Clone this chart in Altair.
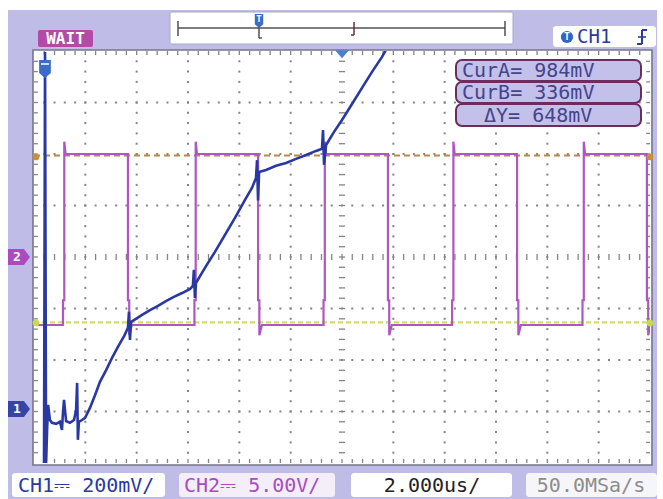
import altair as alt
import pandas as pd
import numpy as np

W, H = 663, 499
PL, PT, PR, PB = 34, 51, 13, 36
PW, PH = W - PL - PR, H - PT - PB  # 616 x 412 screen (12 x 8 divisions)

# ---------------- data ----------------
# CH1 (blue): time in microseconds, voltage in mV (200 mV/div, ground 2.95 div below centre)
ch1_t_us = [-11.61, -11.57, -11.53, -11.49, -11.45, -11.38, -11.30, -11.14, -10.99, -10.91,
            -10.87, -10.83, -10.75, -10.60, -10.44, -10.36, -10.32, -10.29, -10.25, -10.13,
            -10.01, -9.82, -9.62, -9.43, -9.19, -8.96, -8.73, -8.49, -8.34, -8.30,
            -8.26, -8.22, -8.03, -7.79, -7.48, -7.17, -6.86, -6.55, -6.23, -5.92,
            -5.81, -5.77, -5.73, -5.69, -5.34, -4.95, -4.56, -4.17, -3.78, -3.51,
            -3.35, -3.31, -3.27, -3.23, -2.96, -2.57, -2.18, -1.79, -1.40, -1.01,
            -0.78, -0.74, -0.70, -0.62, -0.31, 0.00, 0.39, 0.78, 1.17, 1.56, 1.71]
ch1_mV = [-217, 1386, -217, -82, 16, -43, -54, -58, -50, -82,
          -12, 35, -47, -54, -43, -4, 101, -120, -50, -43,
          -35, 4, 54, 105, 151, 198, 241, 283, 315, 377,
          268, 338, 350, 365, 384, 400, 419, 435, 450, 466,
          478, 540, 431, 489, 548, 610, 676, 742, 812, 858,
          897, 966, 810, 920, 928, 944, 955, 971, 986, 1002,
          1010, 1083, 948, 1025, 1076, 1122, 1184, 1247, 1309, 1367, 1394]
CH1_MV_PER_DIV = 200
CH1_GROUND_DIV = -2.95

# CH2 (purple): square wave, 5 V/div, ground at centre
ch2_edge_us = [-10.87, -8.34, -5.75, -3.27, -0.72, 1.79, 4.29, 6.82, 9.37, 11.88]
ch2_edge_kind = ["rise", "fall", "rise", "fall", "rise", "fall", "rise", "fall", "rise", "fall"]
ch2_high_V = 10.0
ch2_low_V = -6.6
ch2_step_V = -4.2
ch2_overshoot_V = 11.2
ch2_undershoot_V = -7.6
CH2_V_PER_DIV = 5.0

# cursors (CH1)
cur_a_mV = 984
cur_b_mV = 336
delta_mV = 648

# ---------------- tables ----------------
ch1 = pd.DataFrame({"t": ch1_t_us,
                    "d": [v / CH1_MV_PER_DIV + CH1_GROUND_DIV for v in ch1_mV]})
ch1["i"] = range(len(ch1))

pts = [(-12.0, ch2_low_V)]
for te, kind in zip(ch2_edge_us, ch2_edge_kind):
    if kind == "rise":
        pts += [(te, ch2_low_V), (te, ch2_step_V), (te + 0.05, ch2_step_V),
                (te + 0.05, ch2_overshoot_V), (te + 0.1, ch2_high_V)]
    else:
        pts += [(te, ch2_high_V), (te, ch2_step_V), (te + 0.05, ch2_step_V),
                (te + 0.05, ch2_undershoot_V), (te + 0.15, ch2_low_V)]
if pts[-1][0] < 12:
    pts.append((12.0, ch2_low_V))
ch2 = pd.DataFrame({"t": [p[0] for p in pts], "d": [p[1] / CH2_V_PER_DIV for p in pts]})
ch2["i"] = range(len(ch2))

cur_a_div = cur_a_mV / CH1_MV_PER_DIV + CH1_GROUND_DIV
cur_b_div = cur_b_mV / CH1_MV_PER_DIV + CH1_GROUND_DIV

minor_t = np.round(np.arange(-12, 12.001, 0.4), 3)
minor_d = np.round(np.arange(-4, 4.001, 0.2), 3)
dots = []
for t in [-10, -8, -6, -4, -2, 2, 4, 6, 8, 10]:
    for d in minor_d[1:-1]:
        dots.append((t, d))
for d in [-3, -2, -1, 1, 2, 3]:
    for t in minor_t[1:-1]:
        dots.append((t, d))
dots_df = pd.DataFrame(dots, columns=["t", "d"])

ticks = []
for t in minor_t[1:-1]:
    ticks.append((t, t, -0.06, 0.06))        # centre horizontal line
    ticks.append((t, t, 4.0, 3.92))          # top border
    ticks.append((t, t, -4.0, -3.92))        # bottom border
for d in minor_d[1:-1]:
    ticks.append((-0.12, 0.12, d, d))        # centre vertical line
    ticks.append((-12.0, -11.85, d, d))      # left border
    ticks.append((12.0, 11.85, d, d))        # right border
ticks_df = pd.DataFrame(ticks, columns=["t", "t2", "d", "d2"])

XS = alt.Scale(domain=[-12, 12], nice=False, zero=False)
YS = alt.Scale(domain=[-4, 4], nice=False, zero=False)
one = pd.DataFrame({"k": [0]})

LAV = "#bfbde7"
BLUE = "#2a39a2"
PURPLE = "#b056c2"
MONO = "DejaVu Sans Mono"


def box(X0, Y0, X1, Y1, fill, stroke=None, sw=1.0, r=0):
    kw = dict(fill=fill, cornerRadius=r)
    if stroke:
        kw.update(stroke=stroke, strokeWidth=sw)
    else:
        kw.update(strokeWidth=0)
    return alt.Chart(one).mark_rect(**kw).encode(
        x=alt.value(X0 - PL), x2=alt.value(X1 - PL),
        y=alt.value(Y0 - PT), y2=alt.value(Y1 - PT))


def seg(X0, Y0, X1, Y1, color, sw=1.5):
    return alt.Chart(one).mark_rule(color=color, strokeWidth=sw).encode(
        x=alt.value(X0 - PL), x2=alt.value(X1 - PL),
        y=alt.value(Y0 - PT), y2=alt.value(Y1 - PT))


def label(X, Y, s, color, size, align="left", weight="normal", font=MONO):
    return alt.Chart(one).mark_text(text=s, color=color, fontSize=size, align=align,
                                    baseline="middle", fontWeight=weight, font=font).encode(
        x=alt.value(X - PL), y=alt.value(Y - PT))


def sym(X, Y, shape, size, color):
    return alt.Chart(one).mark_point(shape=shape, size=size, filled=True, fill=color,
                                     opacity=1, strokeWidth=0).encode(
        x=alt.value(X - PL), y=alt.value(Y - PT))


layers = []
# frame
layers.append(box(8, 10, 657, 499, LAV))
layers.append(box(0, 0, 663, 10, "#ffffff"))
layers.append(box(PL - 1, PT - 1, PL + PW + 2, PT + PH + 2, "#ffffff", "#76768a", 1.6))

# graticule
layers.append(alt.Chart(dots_df).mark_square(size=4, color="#858585", opacity=1).encode(
    x=alt.X("t:Q", scale=XS, axis=None), y=alt.Y("d:Q", scale=YS, axis=None)))
layers.append(alt.Chart(ticks_df).mark_rule(color="#858585", strokeWidth=1.3).encode(
    x=alt.X("t:Q", scale=XS, axis=None), x2="t2:Q",
    y=alt.Y("d:Q", scale=YS, axis=None), y2="d2:Q"))

# cursor lines
layers.append(alt.Chart(pd.DataFrame({"d": [cur_b_div]})).mark_rule(
    color="#d2dc6a", strokeWidth=2.4, strokeDash=[5, 3]).encode(
    y=alt.Y("d:Q", scale=YS, axis=None), x=alt.value(0), x2=alt.value(PW)))
layers.append(alt.Chart(pd.DataFrame({"d": [cur_a_div]})).mark_rule(
    color="#b88a48", strokeWidth=2, strokeDash=[6, 4]).encode(
    y=alt.Y("d:Q", scale=YS, axis=None), x=alt.value(0), x2=alt.value(PW)))

# traces
layers.append(alt.Chart(ch2).mark_line(color=PURPLE, strokeWidth=2.2, clip=True).encode(
    x=alt.X("t:Q", scale=XS, axis=None), y=alt.Y("d:Q", scale=YS, axis=None), order="i:Q"))
layers.append(alt.Chart(ch1).mark_line(color=BLUE, strokeWidth=2.6, clip=True).encode(
    x=alt.X("t:Q", scale=XS, axis=None), y=alt.Y("d:Q", scale=YS, axis=None), order="i:Q"))

# cursor end markers
for Y, c in [(157, "#c8903c"), (323, "#c8d850")]:
    layers.append(sym(36, Y, "circle", 45, c))
    layers.append(sym(650, Y, "circle", 45, c))

# markers on screen
layers.append(sym(342, 54, "M-1,-0.55 L1,-0.55 L0,0.6 Z", 196, "#4a7fd0"))
layers.append(sym(45, 69, "M-0.65,-1 L0.65,-1 L0.65,0.45 L0,1 L-0.65,0.45 Z", 324, "#3a6cc8"))
layers.append(seg(41, 64, 49, 64, "#ffffff", 1.5))

# left channel markers
arrow = "M-1,-0.72 L0.45,-0.72 L1,0 L0.45,0.72 L-1,0.72 Z"
layers.append(sym(19, 257, arrow, 484, "#a84cbf"))
layers.append(label(17, 257, "2", "#ffffff", 13, "center", "bold"))
layers.append(sym(19, 409, arrow, 484, "#3545a5"))
layers.append(label(17, 409, "1", "#ffffff", 13, "center", "bold"))

# top-left WAIT
layers.append(box(38, 30, 93, 47, "#b24aa6", r=2))
layers.append(label(65.5, 39, "WAIT", "#ffffff", 16, "center", "bold"))

# top-centre memory bar
layers.append(box(170, 12, 513, 44, "#ffffff", "#a8a8c8", 1, r=2))
layers.append(seg(178, 28, 505, 28, "#505050", 1.5))
layers.append(seg(178, 21, 178, 36, "#505050", 1.5))
layers.append(seg(505, 21, 505, 36, "#505050", 1.5))
layers.append(seg(259, 27, 259, 38, "#505050", 1.5))
layers.append(seg(259, 38, 262, 38, "#505050", 1.5))
layers.append(seg(354, 22, 354, 35, "#6a3030", 1.5))
layers.append(seg(351, 35, 354, 35, "#6a3030", 1.5))
layers.append(sym(259, 21, "M-0.6,-1 L0.6,-1 L0.6,0.45 L0,1 L-0.6,0.45 Z", 196, "#3a6cc8"))
layers.append(label(259, 19, "T", "#ffffff", 9, "center", "bold"))

# top-right trigger source
layers.append(box(553, 26, 656, 47, "#ffffff", r=3))
layers.append(sym(567, 37, "circle", 150, "#2f64c8"))
layers.append(label(567, 37, "T", "#ffffff", 10, "center", "bold"))
layers.append(label(577, 37, "CH1", "#2a3c9c", 19, "left"))
# rising-edge trigger icon
layers.append(seg(642, 30, 642, 44, "#2a3c9c", 2))
layers.append(seg(642, 30, 647, 30, "#2a3c9c", 2))
layers.append(seg(637, 44, 642, 44, "#2a3c9c", 2))
layers.append(seg(638, 37, 646, 37, "#2a3c9c", 1.6))

# cursor readouts
for (Y0, Y1), s, X in [((60, 81), "CurA= " + f"{cur_a_mV}mV", 462),
                       ((82, 103), "CurB= " + f"{cur_b_mV}mV", 462),
                       ((104, 126), "ΔY= " + f"{delta_mV}mV", 484)]:
    layers.append(box(456, Y0, 641, Y1, "#c3c0ea", "#6b2d5e", 2, r=6))
    layers.append(label(X, (Y0 + Y1) / 2 + 0.5, s, "#45448c", 20, "left"))

# bottom status boxes
layers.append(box(12, 473, 165, 497, "#ffffff", r=3))
layers.append(label(18, 486, "CH1⎓ 200mV/", BLUE, 20, "left"))
layers.append(box(179, 473, 335, 497, "#f3eef8", r=3))
layers.append(label(184, 486, "CH2⎓ 5.00V/", "#a84cbf", 20, "left"))
layers.append(box(351, 473, 512, 497, "#ffffff", r=3))
layers.append(label(432, 486, "2.000us/", "#222222", 20, "center"))
layers.append(box(526, 473, 657, 497, "#f6f6fa", r=3))
layers.append(label(591, 486, "50.0MSa/s", "#8c8c8c", 20, "center"))

chart = alt.layer(*layers).properties(
    width=PW, height=PH,
    autosize=alt.AutoSizeParams(type="none"),
    padding={"left": PL, "top": PT, "right": PR, "bottom": PB},
    background="#ffffff",
).configure_view(stroke="transparent", fill="transparent")

chart.save("out.html", embed_options={"renderer": "svg", "actions": False})
